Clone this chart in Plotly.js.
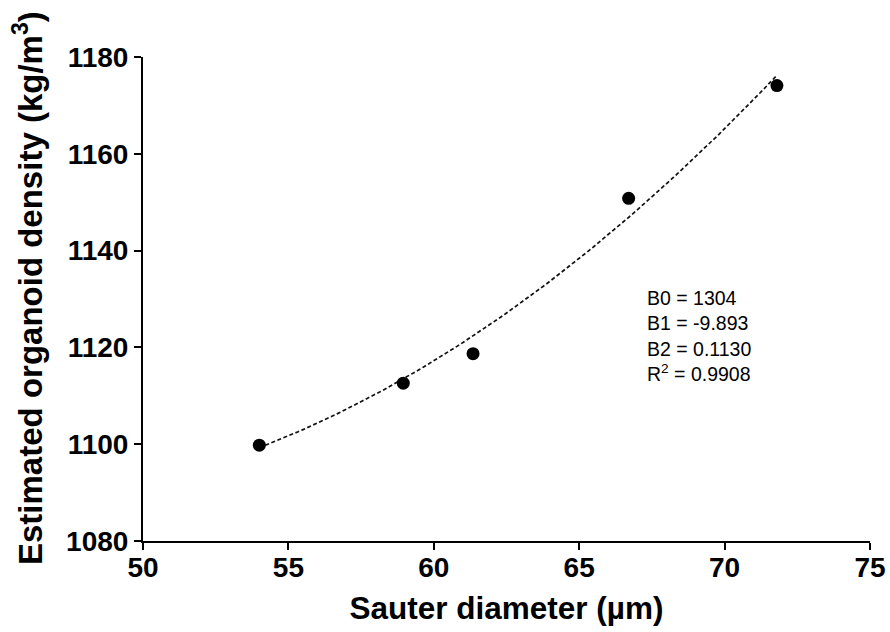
<!DOCTYPE html>
<html>
<head>
<meta charset="utf-8">
<script src="https://cdn.plot.ly/plotly-3.0.1.min.js"></script>
<style>
  html, body { margin: 0; padding: 0; background: #fff; }
  #chart { width: 890px; height: 632px; }
</style>
</head>
<body>
<div id="chart"></div>
<script>
// Measured Sauter diameters (µm) and estimated organoid densities (kg/m³)
const sauterDiameter = [54.0, 58.95, 61.35, 66.7, 71.8];
const organoidDensity = [1099.8, 1112.6, 1118.7, 1150.8, 1174.1];

// Second-order polynomial fit coefficients: y = B0 + B1*x + B2*x^2
const fitLabels = ['B0', 'B1', 'B2'];
const fitCoefs = [1304, -9.893, 0.1130];
const fitR2 = 0.9908;

// Axis ticks
const xTicks = [50, 55, 60, 65, 70, 75];
const yTicks = [1080, 1100, 1120, 1140, 1160, 1180];

// Fitted curve evaluated across the measured diameter span
const xMin = Math.min(...sauterDiameter);
const xMax = Math.max(...sauterDiameter);
const nSteps = 120;
const fitX = [];
const fitY = [];
for (let i = 0; i <= nSteps; i++) {
  const x = xMin + (xMax - xMin) * i / nSteps;
  fitX.push(x);
  fitY.push(fitCoefs[0] + fitCoefs[1] * x + fitCoefs[2] * x * x);
}

const fontFamily = 'Arial, "Liberation Sans", Helvetica, sans-serif';

const traces = [
  {
    x: fitX, y: fitY,
    type: 'scatter', mode: 'lines',
    line: { color: '#111', width: 1.7, dash: '4px,2.5px' },
    hoverinfo: 'skip'
  },
  {
    x: sauterDiameter, y: organoidDensity,
    type: 'scatter', mode: 'markers',
    marker: { color: '#000', size: 13 }
  }
];

const statsText = [
  `${fitLabels[0]} = ${fitCoefs[0]}`,
  `${fitLabels[1]} = ${fitCoefs[1].toFixed(3)}`,
  `${fitLabels[2]} = ${fitCoefs[2].toFixed(4)}`,
  `R<sup>2</sup> = ${fitR2.toFixed(4)}`
].join('<br>');

const axisCommon = {
  showgrid: false,
  zeroline: false,
  showline: true,
  linecolor: '#000',
  linewidth: 2,
  ticks: 'outside',
  ticklen: 7,
  tickwidth: 2,
  tickcolor: '#000',
  tickfont: { family: fontFamily, size: 28, weight: 'bold', color: '#000' }
};

const layout = {
  width: 890,
  height: 632,
  paper_bgcolor: '#fff',
  plot_bgcolor: '#fff',
  showlegend: false,
  margin: { l: 143, r: 20, t: 57, b: 91 },
  xaxis: Object.assign({}, axisCommon, {
    range: [50, 75],
    tickvals: xTicks,
    ticklabelstandoff: -7,
    title: {
      text: 'Sauter diameter (µm)',
      font: { family: fontFamily, size: 31.5, weight: 'bold', color: '#000' },
      standoff: 15
    }
  }),
  yaxis: Object.assign({}, axisCommon, {
    range: [1080, 1180],
    tickvals: yTicks
  }),
  annotations: [
    {
      // vertical axis title, placed as a rotated annotation
      xref: 'paper', yref: 'paper',
      x: -0.158, y: 0.523,
      xanchor: 'center', yanchor: 'middle',
      textangle: -90,
      showarrow: false,
      text: 'Estimated organoid density (kg/m<sup>3</sup>)',
      font: { family: fontFamily, size: 33, weight: 'bold', color: '#000' }
    },
    {
      xref: 'paper', yref: 'paper',
      x: 0.69, y: 0.424,
      xanchor: 'left', yanchor: 'middle',
      align: 'left',
      showarrow: false,
      text: statsText,
      font: { family: fontFamily, size: 19.5, color: '#000' }
    }
  ]
};

Plotly.newPlot('chart', traces, layout, { displayModeBar: false, staticPlot: true });
</script>
</body>
</html>
